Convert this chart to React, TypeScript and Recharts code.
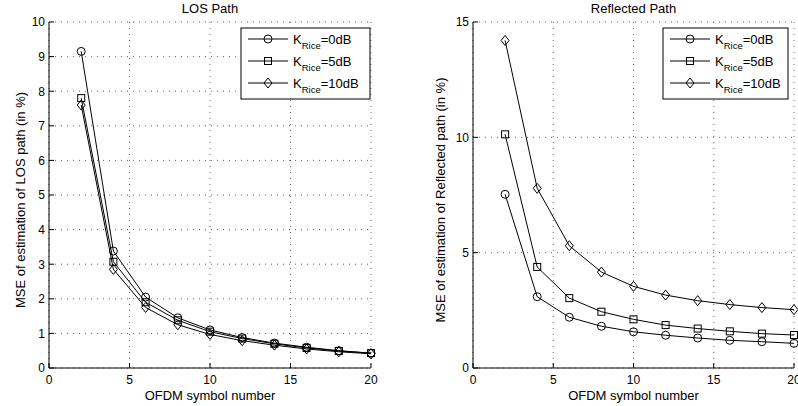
import React from 'react';
import { LineChart, Line, XAxis, YAxis, CartesianGrid } from 'recharts';

const symbols = [2, 4, 6, 8, 10, 12, 14, 16, 18, 20];
const xTicks = [0, 5, 10, 15, 20];

const losK0 = [9.15, 3.38, 2.05, 1.45, 1.1, 0.88, 0.72, 0.6, 0.5, 0.43];
const losK5 = [7.8, 3.07, 1.9, 1.38, 1.05, 0.85, 0.7, 0.58, 0.49, 0.43];
const losK10 = [7.6, 2.85, 1.75, 1.25, 0.97, 0.79, 0.66, 0.55, 0.47, 0.41];
const losTicks = [0, 1, 2, 3, 4, 5, 6, 7, 8, 9, 10];

const reflK0 = [7.53, 3.09, 2.2, 1.81, 1.57, 1.42, 1.3, 1.2, 1.14, 1.07];
const reflK5 = [10.13, 4.38, 3.03, 2.44, 2.11, 1.86, 1.71, 1.59, 1.49, 1.43];
const reflK10 = [14.2, 7.79, 5.3, 4.16, 3.54, 3.16, 2.92, 2.75, 2.62, 2.53];
const reflTicks = [0, 5, 10, 15];

const legendLabels = ['0dB', '5dB', '10dB'];
const shapes = ['circle', 'square', 'diamond'];
const keys = ['k0', 'k5', 'k10'];

const FONT = '"Liberation Sans", Arial, Helvetica, sans-serif';

const losData = symbols.map((s, i) => ({ x: s, k0: losK0[i], k5: losK5[i], k10: losK10[i] }));
const reflData = symbols.map((s, i) => ({ x: s, k0: reflK0[i], k5: reflK5[i], k10: reflK10[i] }));

function Marker({ shape, cx, cy }: { shape: string; cx: number; cy: number }) {
  if (shape === 'circle') return <circle cx={cx} cy={cy} r={4} fill="none" stroke="#000" strokeWidth={1} />;
  if (shape === 'square') return <rect x={cx - 3.5} y={cy - 3.5} width={7} height={7} fill="none" stroke="#000" strokeWidth={1} />;
  return (
    <polygon
      points={`${cx},${cy - 5} ${cx + 4},${cy} ${cx},${cy + 5} ${cx - 4},${cy}`}
      fill="none"
      stroke="#000"
      strokeWidth={1}
    />
  );
}

// inward ticks, MATLAB style
const BottomTick = ({ x, y, payload }: any) => (
  <g>
    <line x1={x} x2={x} y1={y - 7} y2={y - 12} stroke="#000" />
    <text x={x} y={y} dy="0.71em" textAnchor="middle" fontSize={12} fontFamily={FONT} fill="#000">
      {payload.value}
    </text>
  </g>
);
const TopTick = ({ x, y }: any) => <line x1={x} x2={x} y1={y} y2={y + 5} stroke="#000" />;
const LeftTick = ({ x, y, payload }: any) => (
  <g>
    <line x1={x + 4} x2={x + 9} y1={y} y2={y} stroke="#000" />
    <text x={x} y={y} dy="0.36em" textAnchor="end" fontSize={12} fontFamily={FONT} fill="#000">
      {payload.value}
    </text>
  </g>
);
const RightTick = ({ x, y }: any) => <line x1={x} x2={x - 5} y1={y} y2={y} stroke="#000" />;

function LegendBox({ x, y, w }: { x: number; y: number; w: number }) {
  return (
    <g>
      <rect x={x} y={y} width={w} height={71} fill="#fff" stroke="#000" strokeWidth={1} />
      {legendLabels.map((lab, i) => {
        const ry = y + 11 + i * 22;
        return (
          <g key={lab}>
            <line x1={x + 7} x2={x + 47} y1={ry} y2={ry} stroke="#000" />
            <Marker shape={shapes[i]} cx={x + 27} cy={ry} />
            <text x={x + 52} y={ry} dy="0.36em" fontSize={13} fontFamily={FONT} fill="#000">
              K
              <tspan fontSize={9.5} dy={5}>Rice</tspan>
              <tspan fontSize={13} dy={-5}>={lab}</tspan>
            </text>
          </g>
        );
      })}
    </g>
  );
}

function Panel(props: {
  data: any[];
  yMax: number;
  yTicks: number[];
  width: number;
  marginLeft: number;
  yWidth: number;
  marginRight: number;
  title: string;
  yLabel: string;
  yLabelX: number;
  legendX: number;
  legendW: number;
}) {
  const { data, yMax, yTicks, width, marginLeft, yWidth, marginRight, title, yLabel, yLabelX, legendX, legendW } = props;
  const plotLeft = marginLeft + yWidth;
  const plotRight = width - marginRight;
  return (
    <LineChart
      width={width}
      height={406}
      data={data}
      margin={{ top: 22, right: marginRight, bottom: 8, left: marginLeft }}
      style={{ fontFamily: FONT }}
    >
      <CartesianGrid stroke="#666" strokeDasharray="1 5" horizontalValues={yTicks} verticalValues={xTicks} />
      <XAxis
        dataKey="x"
        type="number"
        domain={[0, 20]}
        ticks={xTicks}
        height={30}
        tickSize={0}
        tickMargin={7}
        tick={<BottomTick />}
        stroke="#000"
        interval={0}
      />
      <XAxis
        xAxisId="top"
        orientation="top"
        dataKey="x"
        type="number"
        domain={[0, 20]}
        ticks={xTicks}
        height={0}
        tickSize={0}
        tickMargin={0}
        tick={<TopTick />}
        stroke="#000"
        interval={0}
      />
      <YAxis
        type="number"
        domain={[0, yMax]}
        ticks={yTicks}
        width={yWidth}
        tickSize={0}
        tickMargin={4}
        tick={<LeftTick />}
        stroke="#000"
        interval={0}
      />
      <YAxis
        yAxisId="right"
        orientation="right"
        type="number"
        domain={[0, yMax]}
        ticks={yTicks}
        width={0}
        tickSize={0}
        tickMargin={0}
        tick={<RightTick />}
        stroke="#000"
        interval={0}
      />
      {keys.map((k, i) => (
        <Line
          key={k}
          dataKey={k}
          stroke="#000"
          strokeWidth={1}
          isAnimationActive={false}
          dot={(p: any) => (
            <g key={`${k}-${p.index}`}>
              <Marker shape={shapes[i]} cx={p.cx} cy={p.cy} />
            </g>
          )}
          activeDot={false}
        />
      ))}
      <LegendBox x={legendX} y={28} w={legendW} />
      <text x={(plotLeft + plotRight) / 2} y={8} dy="0.36em" textAnchor="middle" fontSize={13} fontFamily={FONT} fill="#000">
        {title}
      </text>
      <text x={(plotLeft + plotRight) / 2} y={395} dy="0.36em" textAnchor="middle" fontSize={13} fontFamily={FONT} fill="#000">
        OFDM symbol number
      </text>
      <text
        transform={`translate(${yLabelX},200) rotate(-90)`}
        dy="0.36em"
        textAnchor="middle"
        fontSize={13}
        fontFamily={FONT}
        fill="#000"
      >
        {yLabel}
      </text>
    </LineChart>
  );
}

export default function App() {
  return (
    <div style={{ position: 'fixed', left: 0, top: 0, width: 798, height: 406, background: '#fff', overflow: 'hidden' }}>
      <div style={{ position: 'absolute', left: 0, top: 0 }}>
        <Panel
          data={losData}
          yMax={10}
          yTicks={losTicks}
          width={400}
          marginLeft={10}
          yWidth={39}
          marginRight={29}
          title="LOS Path"
          yLabel="MSE of estimation of LOS path (in %)"
          yLabelX={20}
          legendX={241}
          legendW={129}
        />
      </div>
      <div style={{ position: 'absolute', left: 400, top: 0 }}>
        <Panel
          data={reflData}
          yMax={15}
          yTicks={reflTicks}
          width={398}
          marginLeft={10}
          yWidth={63}
          marginRight={4}
          title="Reflected Path"
          yLabel="MSE of estimation of Reflected path (in %)"
          yLabelX={40}
          legendX={263}
          legendW={125}
        />
      </div>
    </div>
  );
}
